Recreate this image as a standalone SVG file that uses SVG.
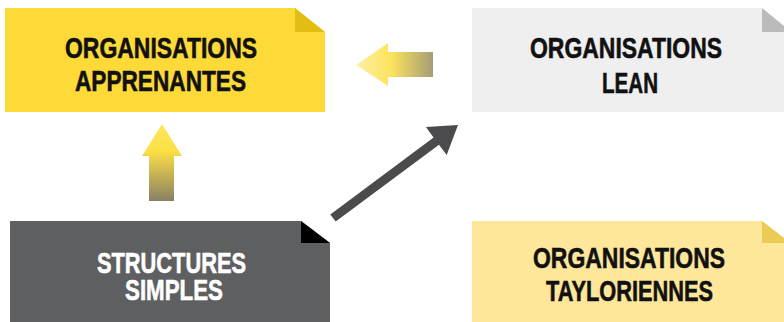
<svg xmlns="http://www.w3.org/2000/svg" width="784" height="322" viewBox="0 0 784 322">
<defs>
<style>
.t{font-family:"Liberation Sans",Arial,sans-serif;font-weight:bold;font-size:29px;stroke-width:0.6px;}
.dk{fill:#111;stroke:#111;}
.wt{fill:#fff;stroke:#fff;}
</style>
<linearGradient id="gl" x1="356" y1="0" x2="433" y2="0" gradientUnits="userSpaceOnUse">
<stop offset="0" stop-color="#FCF0A8"/>
<stop offset="0.45" stop-color="#FDE35C"/>
<stop offset="1" stop-color="#A59D76"/>
</linearGradient>
<linearGradient id="gu" x1="0" y1="124" x2="0" y2="201" gradientUnits="userSpaceOnUse">
<stop offset="0" stop-color="#FDE75E"/>
<stop offset="0.35" stop-color="#FDDF45"/>
<stop offset="1" stop-color="#888064"/>
</linearGradient>
</defs>
<rect width="784" height="322" fill="#fff"/>
<g id="apprenantes">
<polygon points="5,8 295,8 325,32 325,112 5,112" fill="#FDDA38"/>
<polygon points="295,8 325,32 295,32" fill="#E2BE14"/>
<text class="t dk" x="65" y="58" textLength="192" lengthAdjust="spacingAndGlyphs">ORGANISATIONS</text>
<text class="t dk" x="75" y="91" textLength="171" lengthAdjust="spacingAndGlyphs">APPRENANTES</text>
</g>
<g id="lean">
<polygon points="472,8 762,8 784,26 784,112 472,112" fill="#EFEFEF"/>
<polygon points="762,8 784,26 784,32 762,32" fill="#BBBBBB"/>
<text class="t dk" x="530" y="58" textLength="192" lengthAdjust="spacingAndGlyphs">ORGANISATIONS</text>
<text class="t dk" x="602" y="93" textLength="56" lengthAdjust="spacingAndGlyphs">LEAN</text>
</g>
<g id="simples">
<polygon points="10,221 301,221 330,243 330,322 10,322" fill="#5E5F61"/>
<polygon points="301,221 330,243 301,243" fill="#000"/>
<text class="t wt" x="97" y="273" textLength="149" lengthAdjust="spacingAndGlyphs">STRUCTURES</text>
<text class="t wt" x="125" y="300" textLength="98" lengthAdjust="spacingAndGlyphs">SIMPLES</text>
</g>
<g id="tayloriennes">
<polygon points="472,221 762,221 784,238 784,322 472,322" fill="#FEE79B"/>
<polygon points="762,221 784,238 784,243 762,243" fill="#E9CB56"/>
<text class="t dk" x="533" y="268" textLength="192" lengthAdjust="spacingAndGlyphs">ORGANISATIONS</text>
<text class="t dk" x="546" y="301" textLength="167" lengthAdjust="spacingAndGlyphs">TAYLORIENNES</text>
</g>
<g id="connectors">
<polygon points="356,65 388,43 388,52 433,52 433,77 388,77 388,86" fill="url(#gl)"/>
<polygon points="162,124 182,156 174,156 174,201 149,201 149,156 142,156" fill="url(#gu)"/>
<polygon points="330.3,214.4 433.6,137.5 425.9,127.1 458,125 446.7,155.1 439,144.7 335.7,221.6" fill="#4B4B4D"/>
</g>
</svg>
